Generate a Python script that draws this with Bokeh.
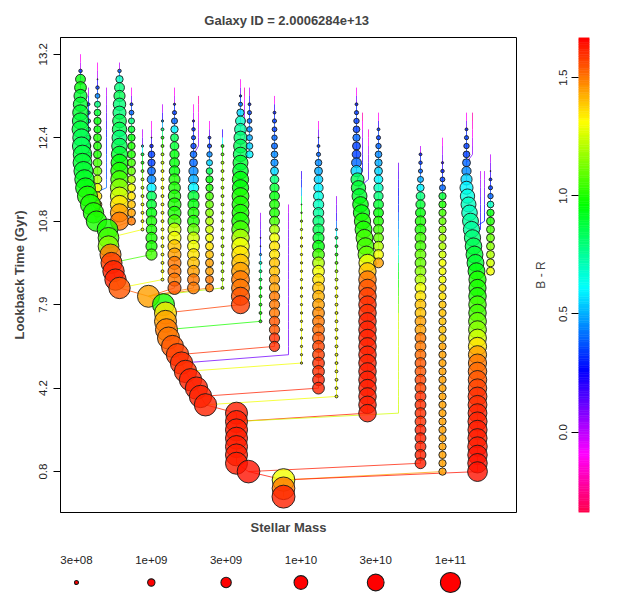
import colorsys
from bokeh.plotting import figure
from bokeh.models import Range1d, FixedTicker, ColumnDataSource, LinearColorMapper, LinearInterpolator
from bokeh.transform import transform
from bokeh.layouts import column, row
from bokeh.embed import file_html
from bokeh.resources import INLINE
from bokeh.core.properties import value

# ------------------------------------------------------------------ data
title_text = "Galaxy ID =  2.0006284e+13"
snap_ticks = [10, 20, 30, 40, 50, 60]
lookback_labels = ["13.2", "12.4", "10.8", "7.9", "4.2", "0.8"]
br_ticks = [0.0, 0.5, 1.0, 1.5]
br_tick_labels = ["0.0", "0.5", "1.0", "1.5"]
legend_logm = [8.477, 9.0, 9.477, 10.0, 10.477, 11.0]
legend_labels = ["3e+08", "1e+09", "3e+09", "1e+10", "3e+10", "1e+11"]

branch_names = ["main", "D", "B", "C", "B2", "E", "F", "G", "H", "I", "J", "J2", "K", "L",
                "M", "M2", "M3", "N", "O", "P", "Q", "R", "S", "T", "T2", "T3", "V", "U",
                "W", "X", "Y", "Y2", "Y3", "Y4", "Z"]
branch_into = [None, "main", "main", "main", "main", "main", "main", "main", "main", "main",
               "main", "J", "main", "main", "main", "M", "M", "main", "main", "main", "main",
               "main", "main", "main", "T", "T", "T", "main", "main", "main", "main",
               "Y", "Y", "Y", "Y"]
branch_first = [10, 11, 11, 14, 14, 14, 19, 18, 16, 14, 16, 15, 18, 19, 13, 14, 14, 29, 15,
                28, 24, 18, 27, 14, 17, 19, 17, 23, 21, 20, 17, 17, 24, 24, 22]

main_x = [80, 80, 80, 80, 80, 80, 80, 80, 80, 80,
          81, 81, 82, 82, 83, 84, 85, 87, 90, 93,
          96, 107, 108, 108, 110, 111, 113, 115, 119, 148,
          163, 165, 165, 166, 168, 172, 177, 181, 185, 190,
          196, 200, 205, 236, 236, 236, 236, 236, 236, 236,
          248, 283, 283, 283]
T_x = [356, 356, 356, 356, 356, 356, 356, 356, 356, 356,
       356, 357, 358, 359, 360, 361, 362, 363, 364, 365,
       366, 367, 367, 367, 367, 367, 367, 367, 367, 367,
       367, 367, 367, 367, 367, 367, 367, 367, 367, 367]
Y_x = [466, 466, 466, 466, 466, 466, 466, 466, 466, 466,
       467, 468, 469, 470, 471, 472, 473, 474, 475, 476,
       477, 477, 477, 477, 477, 477, 477, 477, 477, 477,
       477, 477, 477, 477, 477, 477, 477, 477, 477, 477,
       477, 477, 477, 477]
branch_x = [main_x, 119, 97, 88, 106, 131, 142, 151, 162, 174, 193, 198, 209, 222,
            240, 249, 244, 260, 274, 288, 301, 318, 336, T_x, 362, 368, 378, 398,
            420, 442, Y_x, 472, 480, 484, 490]

# log10 stellar mass, one value per snapshot from branch_first on
branch_logm = [
    [7.0, 7.5, 8.4, 9.4, 9.7, 9.9, 10.1, 10.3, 10.4, 10.5,
     10.6, 10.7, 10.75, 10.8, 10.85, 10.9, 10.95, 11.0, 11.0, 11.05,
     11.05, 11.1, 11.1, 11.1, 11.15, 11.15, 11.2, 11.2, 11.2, 11.3,
     11.3, 11.3, 11.3, 11.3, 11.3, 11.3, 11.35, 11.35, 11.35, 11.35,
     11.35, 11.35, 11.35, 11.3, 11.3, 11.3, 11.3, 11.3, 11.3, 11.3,
     11.4, 11.4, 11.4, 11.45],                                              # main
    [7.0, 8.4, 9.0, 9.4, 9.6, 9.8, 9.9, 10.0, 10.1, 10.2,
     10.3, 10.4, 10.5, 10.6, 10.6, 10.7, 10.7, 10.7, 10.7, 10.7],           # D
    [7.0, 7.5, 8.0, 8.4, 8.6, 8.8, 8.9, 9.0, 9.0, 9.1,
     9.1, 9.1, 9.2, 9.2, 9.2, 9.2, 9.2, 9.2, 9.2],                          # B
    [7.0, 7.8, 8.3, 8.4, 8.5, 8.5, 8.6, 8.6, 8.6],                          # C
    [7.0, 7.0, 7.0, 7.0, 7.0, 7.0, 7.0, 7.0, 7.0, 7.0, 7.0, 7.0, 7.0],      # B2
    [7.0, 7.6, 8.3, 8.6, 8.8, 8.9, 9.0, 9.0, 9.1, 9.1,
     9.1, 9.1, 9.1, 9.1, 9.1, 9.1, 9.1],                                    # E
    [7.0, 7.5, 8.2, 8.3, 8.3, 8.3, 8.3, 8.3, 8.3, 8.3, 8.3, 8.3, 8.3],      # F
    [7.0, 7.5, 8.0, 8.4, 8.9, 9.0, 9.1, 9.2, 9.3, 9.4,
     9.4, 9.5, 9.5, 9.5, 9.6, 9.6, 9.6],                                    # G
    [7.0, 7.6, 8.2, 8.3, 8.3, 8.3, 8.3, 8.3, 8.3, 8.3,
     8.3, 8.3, 8.3, 8.3, 8.3, 8.3, 8.3, 8.3, 8.3, 8.3,
     8.3, 8.3],                                                             # H
    [7.0, 7.5, 8.2, 8.5, 8.8, 9.0, 9.1, 9.2, 9.3, 9.4,
     9.5, 9.6, 9.7, 9.8, 9.9, 9.9, 9.9, 9.9, 9.9, 9.9,
     9.9, 9.9, 9.9, 9.9, 9.9],                                              # I
    [7.0, 7.5, 8.2, 8.4, 8.5, 8.7, 8.9, 9.1, 9.3, 9.4,
     9.5, 9.6, 9.6, 9.6, 9.7, 9.7, 9.7, 9.7, 9.7, 9.7,
     9.7, 9.7, 9.7],                                                        # J
    [7.0, 7.0, 7.0, 7.0, 7.0, 7.0, 7.0],                                    # J2
    [7.0, 7.5, 8.3, 8.5, 8.7, 8.8, 8.9, 9.0, 9.0, 9.1,
     9.1, 9.1, 9.1, 9.1, 9.1, 9.1, 9.1, 9.1, 9.1, 9.1,
     9.1],                                                                  # K
    [7.0, 7.8, 8.3, 8.3, 8.3, 8.3, 8.3, 8.3, 8.3, 8.3,
     8.3, 8.3, 8.3, 8.3, 8.3, 8.3, 8.3, 8.3, 8.3, 8.3],                     # L
    [7.0, 7.5, 8.2, 8.5, 9.0, 9.4, 9.7, 9.9, 10.0, 10.1,
     10.2, 10.3, 10.4, 10.4, 10.5, 10.5, 10.5, 10.6, 10.6, 10.6,
     10.6, 10.6, 10.6, 10.65, 10.65, 10.65, 10.7, 10.7],                    # M
    [7.0, 7.6, 8.3, 8.5, 8.6, 8.7, 8.8, 8.9, 9.0],                          # M2
    [7.0, 7.0, 7.0, 7.0, 7.0, 7.0, 7.0],                                    # M3
    [7.0, 7.5, 7.8, 8.0, 8.0, 8.2, 8.3, 8.3, 8.3, 8.3, 8.3, 8.3, 8.3, 8.3], # N
    [7.0, 7.8, 8.3, 8.5, 8.6, 8.7, 8.8, 8.9, 9.0, 9.1,
     9.2, 9.3, 9.4, 9.4, 9.4, 9.4, 9.4, 9.4, 9.45, 9.45,
     9.45, 9.45, 9.45, 9.45, 9.45, 9.45, 9.45, 9.45, 9.45, 9.45,
     9.45],                                                                 # O
    [7.0, 7.0, 7.0, 7.0, 7.0, 7.0, 7.0, 7.0, 7.0, 7.0,
     7.0, 7.0, 7.0, 7.0, 7.0, 7.0, 7.0, 7.0, 7.0],                          # P
    [7.0, 7.0, 7.5, 7.8, 8.0, 8.1, 8.2, 8.2, 8.2, 8.2,
     8.2, 8.2, 8.2, 8.2, 8.2, 8.2, 8.2, 8.2, 8.2, 8.2,
     8.2, 8.2, 8.2, 8.2],                                                   # Q
    [7.0, 7.5, 8.0, 8.3, 8.5, 8.9, 9.1, 9.2, 9.3, 9.4,
     9.5, 9.5, 9.6, 9.6, 9.6, 9.7, 9.7, 9.7, 9.7, 9.7,
     9.7, 9.7, 9.7, 9.7, 9.7, 9.7, 9.7, 9.7, 9.7, 9.7,
     9.7, 9.7, 9.7],                                                        # R
    [7.0, 7.3, 7.6, 7.9, 8.2, 8.3, 8.3, 8.3, 8.3, 8.3,
     8.3, 8.3, 8.3, 8.3, 8.3, 8.3, 8.3, 8.3, 8.3, 8.3,
     8.3, 8.3, 8.3, 8.3, 8.3],                                              # S
    [7.0, 7.5, 8.3, 8.5, 8.7, 8.9, 9.0, 9.1, 9.2, 9.4,
     9.6, 9.9, 10.1, 10.2, 10.3, 10.4, 10.4, 10.5, 10.5, 10.5,
     10.5, 10.55, 10.55, 10.6, 10.6, 10.6, 10.6, 10.6, 10.6, 10.6,
     10.6, 10.6, 10.6, 10.6, 10.6, 10.6, 10.6, 10.6, 10.6, 10.6],           # T
    [7.0, 7.0, 7.0, 7.0, 7.0, 7.0, 7.0, 7.0],                               # T2
    [7.0, 7.0, 7.0, 7.0, 7.0, 7.0, 7.0],                                    # T3
    [7.0, 7.8, 8.3, 8.5, 8.7, 8.9, 9.0, 9.1, 9.2, 9.3,
     9.3, 9.4, 9.4, 9.4, 9.4, 9.4, 9.4, 9.4, 9.4],                          # V
    [7.0, 7.0, 7.0, 7.0, 7.0, 7.0, 7.0, 7.0, 7.0, 7.0,
     7.0, 7.0, 7.0, 7.0, 7.0, 7.0, 7.0, 7.0, 7.0, 7.0,
     7.0, 7.0, 7.0, 7.0, 7.0, 7.0, 7.0, 7.0, 7.0, 7.0,
     7.0],                                                                  # U
    [7.0, 8.3, 8.4, 8.5, 8.8, 9.0, 9.2, 9.3, 9.4, 9.5,
     9.55, 9.55, 9.55, 9.55, 9.55, 9.55, 9.55, 9.55, 9.55, 9.55,
     9.55, 9.55, 9.55, 9.55, 9.55, 9.55, 9.55, 9.55, 9.55, 9.55,
     9.55, 9.55, 9.55, 9.55, 9.55, 9.55, 9.55, 9.55, 9.55],                 # W
    [7.0, 7.5, 7.9, 8.2, 8.4, 8.6, 8.8, 9.0, 9.0, 9.0,
     9.0, 9.0, 9.0, 9.0, 9.0, 9.0, 9.0, 9.0, 9.0, 9.0,
     9.0, 9.0, 9.0, 9.0, 9.0, 9.0, 9.0, 9.0, 9.0, 9.0,
     9.0, 9.0, 9.0, 9.0, 9.0, 9.0, 9.0, 9.0, 9.0, 9.0,
     9.0],                                                                  # X
    [7.0, 7.5, 8.3, 8.5, 8.7, 8.9, 9.1, 9.3, 9.6, 9.9,
     10.1, 10.2, 10.3, 10.35, 10.4, 10.4, 10.45, 10.5, 10.5, 10.5,
     10.55, 10.55, 10.6, 10.6, 10.6, 10.65, 10.65, 10.65, 10.7, 10.7,
     10.7, 10.75, 10.75, 10.75, 10.8, 10.8, 10.8, 10.85, 10.85, 10.85,
     10.9, 10.9, 10.9, 10.95],                                              # Y
    [7.0, 7.0, 7.0, 7.0, 7.0, 7.0],                                         # Y2
    [7.0, 7.0, 7.0, 7.0, 7.0, 7.0, 7.0, 7.0],                               # Y3
    [7.0, 7.0, 7.0, 7.0, 7.0, 7.0, 7.0],                                    # Y4
    [7.0, 7.5, 8.0, 8.3, 8.5, 8.7, 8.9, 9.0, 9.1, 9.1,
     9.1, 9.1, 9.1, 9.1, 9.1],                                              # Z
]

# B - R colour, one value per snapshot from branch_first on
branch_br = [
    [-0.1, 0.0, 0.35, 0.95, 0.95, 0.9, 0.9, 0.9, 0.88, 0.88,
     0.85, 0.85, 0.88, 0.9, 0.9, 0.92, 0.95, 1.0, 1.0, 1.0,
     1.0, 1.0, 1.05, 1.15, 1.5, 1.58, 1.62, 1.62, 1.55, 1.45,
     1.0, 1.35, 1.45, 1.5, 1.5, 1.55, 1.58, 1.6, 1.6, 1.62,
     1.62, 1.62, 1.62, 1.63, 1.63, 1.63, 1.63, 1.63, 1.63, 1.63,
     1.64, 1.3, 1.5, 1.62],                                                 # main
    [0.0, 0.4, 0.7, 0.8, 0.85, 0.8, 0.8, 0.85, 0.85, 0.8,
     0.85, 0.9, 0.95, 1.0, 1.05, 1.15, 1.25, 1.35, 1.45, 1.5],              # D
    [-0.1, 0.0, 0.2, 0.35, 0.45, 0.8, 0.9, 0.95, 0.95, 1.0,
     1.0, 1.0, 1.05, 1.1, 1.2, 1.3, 1.35, 1.45, 1.5],                       # B
    [0.0, 0.2, 0.35, 0.4, 0.5, 0.7, 0.85, 0.9, 0.9],                        # C
    [0.0, 0.05, 0.1, 0.15, 0.2, 0.25, 0.3, 0.3, 0.35, 0.35, 0.35, 0.4, 0.4],  # B2
    [-0.1, 0.1, 0.35, 0.4, 0.8, 0.9, 0.95, 1.0, 1.0, 1.05,
     1.1, 1.2, 1.3, 1.35, 1.4, 1.45, 1.5],                                  # E
    [0.0, 0.1, 0.6, 0.9, 1.0, 1.1, 1.2, 1.2, 1.25, 1.3, 1.3, 1.3, 1.3],     # F
    [-0.1, 0.0, 0.2, 0.3, 0.35, 0.35, 0.4, 0.45, 0.6, 0.85,
     0.9, 0.95, 1.0, 1.0, 1.0, 1.0, 1.05],                                  # G
    [0.0, 0.2, 0.5, 0.8, 1.0, 1.1, 1.2, 1.25, 1.3, 1.3,
     1.3, 1.3, 1.3, 1.3, 1.3, 1.3, 1.3, 1.3, 1.3, 1.3,
     1.3, 1.3],                                                             # H
    [-0.1, 0.0, 0.3, 0.35, 0.4, 0.6, 0.85, 0.9, 0.95, 0.95,
     0.95, 1.0, 1.0, 1.0, 1.0, 1.0, 1.05, 1.25, 1.3, 1.4,
     1.45, 1.5, 1.5, 1.5, 1.55],                                            # I
    [-0.1, 0.0, 0.2, 0.3, 0.35, 0.35, 0.4, 0.4, 0.45, 0.5,
     0.6, 0.9, 0.95, 1.0, 1.0, 1.1, 1.25, 1.3, 1.35, 1.4,
     1.45, 1.5, 1.5],                                                       # J
    [-0.2, -0.15, -0.1, -0.05, 0.0, 0.05, 0.1],                             # J2
    [-0.1, 0.1, 0.3, 0.35, 0.45, 0.55, 0.85, 0.95, 1.0, 1.05,
     1.1, 1.15, 1.2, 1.25, 1.3, 1.35, 1.4, 1.45, 1.45, 1.5,
     1.5],                                                                  # K
    [0.2, 0.6, 1.0, 1.1, 1.2, 1.2, 1.2, 1.2, 1.2, 1.2,
     1.2, 1.2, 1.2, 1.2, 1.2, 1.2, 1.2, 1.2, 1.2, 1.2],                     # L
    [-0.1, 0.1, 0.3, 0.4, 0.55, 0.7, 0.75, 0.8, 0.85, 0.85,
     0.9, 0.9, 0.95, 0.95, 1.0, 1.0, 1.0, 1.0, 1.05, 1.2,
     1.3, 1.35, 1.4, 1.45, 1.5, 1.5, 1.55, 1.58],                           # M
    [0.0, 0.2, 0.3, 0.35, 0.4, 0.45, 0.5, 0.55, 0.6],                       # M2
    [-0.2, -0.1, 0.0, 0.0, 0.05, 0.1, 0.1],                                 # M3
    [0.05, 0.1, 0.15, 0.2, 0.3, 0.5, 0.7, 0.8, 0.9, 0.95, 1.0, 1.0, 1.0, 1.0],  # N
    [-0.1, 0.2, 0.3, 0.35, 0.35, 0.4, 0.4, 0.45, 0.45, 0.55,
     0.8, 0.9, 0.95, 1.0, 1.0, 1.05, 1.2, 1.3, 1.35, 1.35,
     1.4, 1.4, 1.45, 1.45, 1.5, 1.5, 1.5, 1.55, 1.55, 1.6,
     1.6],                                                                  # O
    [0.0, 0.05, 0.05, 0.1, 0.1, 0.1, 0.1, 0.1, 0.1, 0.1,
     0.1, 0.1, 0.1, 0.1, 0.1, 0.1, 0.1, 0.1, 0.1],                          # P
    [0.2, 0.3, 0.5, 0.8, 1.0, 1.1, 1.2, 1.25, 1.3, 1.3,
     1.3, 1.3, 1.3, 1.3, 1.3, 1.3, 1.3, 1.3, 1.3, 1.3,
     1.3, 1.3, 1.3, 1.3],                                                   # Q
    [-0.1, 0.1, 0.3, 0.35, 0.4, 0.45, 0.5, 0.55, 0.6, 0.65,
     0.7, 0.75, 0.8, 0.85, 0.9, 0.95, 1.05, 1.2, 1.3, 1.35,
     1.4, 1.42, 1.45, 1.48, 1.5, 1.52, 1.55, 1.57, 1.58, 1.6,
     1.6, 1.62, 1.62],                                                      # R
    [0.05, 0.1, 0.2, 0.4, 0.6, 0.8, 0.9, 1.0, 1.1, 1.2,
     1.25, 1.3, 1.3, 1.3, 1.3, 1.3, 1.3, 1.3, 1.3, 1.3,
     1.3, 1.3, 1.3, 1.3, 1.3],                                              # S
    [-0.1, 0.1, 0.3, 0.35, 0.35, 0.35, 0.4, 0.35, 0.35, 0.4,
     0.55, 0.85, 0.9, 0.9, 0.95, 0.95, 1.0, 1.0, 1.05, 1.05,
     1.1, 1.3, 1.4, 1.5, 1.55, 1.58, 1.6, 1.6, 1.62, 1.62,
     1.62, 1.62, 1.62, 1.62, 1.63, 1.63, 1.63, 1.63, 1.63, 1.63],           # T
    [-0.2, -0.1, 0.0, 0.1, 0.15, 0.2, 0.25, 0.3],                           # T2
    [-0.15, -0.1, 0.0, 0.05, 0.1, 0.15, 0.2],                               # T3
    [-0.1, 0.2, 0.35, 0.35, 0.4, 0.45, 0.5, 0.55, 0.6, 0.7,
     0.8, 0.9, 0.95, 1.0, 1.05, 1.1, 1.2, 1.3, 1.45],                       # V
    [0.1, 0.15, 0.2, 0.25, 0.3, 0.3, 0.4, 0.45, 0.5, 0.55,
     0.6, 0.7, 0.9, 0.95, 1.0, 1.05, 1.1, 1.15, 1.25, 1.25,
     1.25, 1.25, 1.25, 1.25, 1.25, 1.25, 1.25, 1.25, 1.25, 1.25,
     1.25],                                                                 # U
    [0.0, 0.3, 0.35, 0.4, 0.5, 0.6, 0.8, 0.9, 0.95, 1.0,
     1.0, 1.05, 1.05, 1.1, 1.1, 1.15, 1.2, 1.3, 1.35, 1.4,
     1.4, 1.45, 1.45, 1.5, 1.5, 1.52, 1.55, 1.55, 1.57, 1.57,
     1.6, 1.6, 1.6, 1.6, 1.62, 1.62, 1.62, 1.62, 1.63],                     # W
    [-0.1, 0.0, 0.1, 0.2, 0.3, 0.35, 0.4, 0.9, 1.0, 1.05,
     1.1, 1.15, 1.2, 1.2, 1.25, 1.3, 1.3, 1.3, 1.35, 1.35,
     1.4, 1.4, 1.4, 1.4, 1.4, 1.45, 1.45, 1.45, 1.45, 1.45,
     1.45, 1.45, 1.45, 1.45, 1.45, 1.45, 1.45, 1.45, 1.45, 1.45,
     1.45],                                                                 # X
    [-0.1, 0.1, 0.3, 0.35, 0.35, 0.35, 0.4, 0.45, 0.55, 0.6,
     0.65, 0.7, 0.7, 0.75, 0.75, 0.8, 0.85, 0.9, 0.9, 0.95,
     1.0, 1.0, 1.0, 1.05, 1.05, 1.1, 1.15, 1.25, 1.35, 1.45,
     1.5, 1.52, 1.55, 1.57, 1.6, 1.6, 1.62, 1.62, 1.63, 1.63,
     1.63, 1.64, 1.64, 1.64],                                               # Y
    [-0.2, -0.15, -0.1, 0.0, 0.05, 0.1],                                    # Y2
    [0.0, 0.05, 0.1, 0.15, 0.2, 0.2, 0.25, 0.3],                            # Y3
    [0.0, 0.05, 0.1, 0.15, 0.2, 0.25, 0.3],                                 # Y4
    [0.0, 0.1, 0.2, 0.3, 0.35, 0.4, 0.7, 0.95, 1.0, 1.05,
     1.1, 1.15, 1.2, 1.25, 1.3],                                            # Z
]

# ------------------------------------------------------------------ styles / scales
BR_LOW, BR_HIGH = -0.34, 1.67
FONT = "Liberation Sans"


def hsv_hex(h):
    r, g, b = colorsys.hsv_to_rgb(h, 1.0, 1.0)
    return "#%02x%02x%02x" % (round(r * 255), round(g * 255), round(b * 255))


palette = [hsv_hex(0.95 * (1.0 - k / 255.0)) for k in range(256)]
cmap = LinearColorMapper(palette=palette, low=BR_LOW, high=BR_HIGH)
# symbol diameter (px) grows linearly with log10 mass
size_map = LinearInterpolator(x=[7.9, 12.0], y=[0.3, 26.5])

idx = {n: i for i, n in enumerate(branch_names)}


def track(i):
    n = len(branch_logm[i])
    if len(branch_br[i]) != n:
        raise ValueError("length mismatch in branch %s" % branch_names[i])
    xv = branch_x[i]
    xs = list(xv) if isinstance(xv, list) else [xv] * n
    if len(xs) != n:
        raise ValueError("x length mismatch in branch %s" % branch_names[i])
    ss = [branch_first[i] + k for k in range(n)]
    return xs, ss


seg = dict(x0=[], y0=[], x1=[], y1=[], br=[])
for i in range(len(branch_names)):
    xs, ss = track(i)
    for k in range(len(xs) - 1):
        seg["x0"].append(xs[k]); seg["y0"].append(ss[k])
        seg["x1"].append(xs[k + 1]); seg["y1"].append(ss[k + 1])
        seg["br"].append(branch_br[i][k])
    if branch_into[i] is not None:
        j = idx[branch_into[i]]
        xj, sj = track(j)
        kk = sj.index(ss[-1] + 1)
        seg["x0"].append(xs[-1]); seg["y0"].append(ss[-1])
        seg["x1"].append(xj[kk]); seg["y1"].append(sj[kk])
        seg["br"].append(branch_br[i][-1])

pts = dict(x=[], y=[], logm=[], br=[])
for i in list(range(1, len(branch_names))) + [0]:
    xs, ss = track(i)
    for k in range(len(xs)):
        if branch_logm[i][k] >= 8.0:
            pts["x"].append(xs[k]); pts["y"].append(ss[k])
            pts["logm"].append(branch_logm[i][k]); pts["br"].append(branch_br[i][k])

# ------------------------------------------------------------------ main plot
p = figure(width=520, height=540, x_range=Range1d(60, 516), y_range=Range1d(64.9, 8.0),
           output_backend="svg", toolbar_location=None,
           min_border_left=60, min_border_right=4, min_border_top=35, min_border_bottom=26)
p.title.text = title_text
p.title.align = "center"
p.title.text_font = FONT
p.title.text_font_size = "13px"
p.title.text_font_style = "bold"
p.title.standoff = 19
p.grid.visible = False
p.outline_line_color = "black"
p.outline_line_width = 1
p.background_fill_color = "white"
p.border_fill_color = "white"

p.yaxis.ticker = FixedTicker(ticks=snap_ticks)
p.yaxis.major_label_overrides = {t: l for t, l in zip(snap_ticks, lookback_labels)}
p.yaxis.major_label_orientation = "vertical"
p.yaxis.major_tick_out = 7
p.yaxis.major_tick_in = 0
p.yaxis.minor_tick_line_color = None
p.yaxis.major_label_standoff = 6
p.yaxis.major_label_text_font = FONT
p.yaxis.major_label_text_font_size = "11.5px"
p.yaxis.major_label_text_color = "#222222"
p.yaxis.axis_label = "Lookback Time (Gyr)"
p.yaxis.axis_label_text_font = FONT
p.yaxis.axis_label_text_font_size = "13px"
p.yaxis.axis_label_text_font_style = "bold"
p.yaxis.axis_label_standoff = 10

p.xaxis.ticker = FixedTicker(ticks=[])
p.xaxis.axis_line_color = None
p.xaxis.major_tick_out = 0
p.xaxis.major_tick_in = 0
p.xaxis.minor_tick_line_color = None
p.xaxis.axis_label = "Stellar Mass"
p.xaxis.axis_label_text_font = FONT
p.xaxis.axis_label_text_font_size = "13px"
p.xaxis.axis_label_text_font_style = "bold"
p.xaxis.axis_label_standoff = 7

p.segment("x0", "y0", "x1", "y1", source=ColumnDataSource(seg),
          line_color=transform("br", cmap), line_width=1.0, line_alpha=0.75)
p.scatter("x", "y", source=ColumnDataSource(pts), size=transform("logm", size_map),
          fill_color=transform("br", cmap), fill_alpha=0.8,
          line_color="#1a1a1a", line_width=0.9)

# ------------------------------------------------------------------ colour bar
cb = figure(width=101, height=540, x_range=Range1d(0, 1), y_range=Range1d(BR_LOW, BR_HIGH),
            output_backend="svg", toolbar_location=None,
            min_border_left=58, min_border_right=32, min_border_top=37, min_border_bottom=28)
nstep = 200
step = (BR_HIGH - BR_LOW) / nstep
bars = dict(bottom=[BR_LOW + k * step for k in range(nstep)],
            top=[BR_LOW + (k + 1) * step for k in range(nstep)],
            mid=[BR_LOW + (k + 0.5) * step for k in range(nstep)])
cb.quad(left=0, right=1, bottom="bottom", top="top", source=ColumnDataSource(bars),
        fill_color=transform("mid", cmap), line_color=transform("mid", cmap), line_width=0.6)
cb.grid.visible = False
cb.outline_line_color = None
cb.xaxis.visible = False
cb.yaxis.ticker = FixedTicker(ticks=br_ticks)
cb.yaxis.major_label_overrides = {t: l for t, l in zip(br_ticks, br_tick_labels)}
cb.yaxis.major_label_orientation = "vertical"
cb.yaxis.axis_line_color = None
cb.yaxis.major_tick_out = 7
cb.yaxis.major_tick_in = 0
cb.yaxis.minor_tick_line_color = None
cb.yaxis.major_label_standoff = 4
cb.yaxis.major_label_text_font = FONT
cb.yaxis.major_label_text_font_size = "11.5px"
cb.yaxis.major_label_text_color = "#222222"
cb.yaxis.axis_label = "B - R"
cb.yaxis.axis_label_text_font = FONT
cb.yaxis.axis_label_text_font_size = "12px"
cb.yaxis.axis_label_text_font_style = "normal"
cb.yaxis.axis_label_standoff = 9

# ------------------------------------------------------------------ size legend
LEG_X0, LEG_DX = 76, 74.8
leg = figure(width=621, height=55, x_range=Range1d(0, 621), y_range=Range1d(55, 0),
             output_backend="svg", toolbar_location=None,
             min_border_left=0, min_border_right=0, min_border_top=0, min_border_bottom=0)
leg.axis.visible = False
leg.grid.visible = False
leg.outline_line_color = None
lsrc = ColumnDataSource(dict(x=[LEG_X0 + LEG_DX * k for k in range(len(legend_logm))],
                             ylab=[19] * len(legend_logm), ysym=[42] * len(legend_logm),
                             logm=legend_logm, label=legend_labels))
leg.text(x="x", y="ylab", text="label", source=lsrc, text_font=value(FONT),
         text_font_size="11.5px", text_align="center", text_baseline="middle",
         text_color="#222222")
leg.scatter(x="x", y="ysym", size=transform("logm", size_map), source=lsrc,
            fill_color="#ff0000", line_color="#1a1a1a", line_width=1.1)

layout = column(row(p, cb), leg)
open("out.html", "w").write(file_html(layout, INLINE))
